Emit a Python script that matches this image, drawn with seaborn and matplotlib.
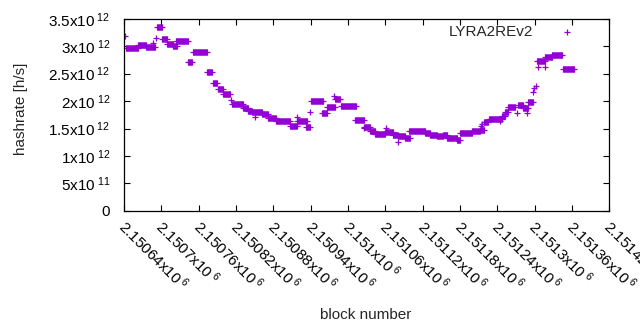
import numpy as np
import pandas as pd
import matplotlib
matplotlib.use("Agg")
import matplotlib.pyplot as plt
from matplotlib.transforms import ScaledTranslation
import seaborn as sns

# runs of blocks with (nearly) constant hashrate, rate in 1e12 h/s
run_start = [2150643, 2150662, 2150675, 2150693, 2150701, 2150709, 2150719, 2150724, 2150742, 2150751,
             2150773, 2150783, 2150791, 2150799, 2150814, 2150831, 2150839, 2150846, 2150862, 2150872,
             2150884, 2150907, 2150918, 2150933, 2150941, 2150958, 2150966, 2150979, 2150989, 2151011,
             2151026, 2151036, 2151044, 2151060, 2151073, 2151081, 2151092, 2151098, 2151124, 2151132,
             2151143, 2151153, 2151159, 2151175, 2151180, 2151200, 2151212, 2151219, 2151226, 2151248,
             2151253, 2151257, 2151274, 2151282, 2151290, 2151303, 2151317, 2151328, 2151346]
run_end = [2150662, 2150675, 2150690, 2150701, 2150709, 2150719, 2150725, 2150743, 2150749, 2150773,
           2150782, 2150790, 2150799, 2150810, 2150831, 2150839, 2150846, 2150862, 2150872, 2150884,
           2150907, 2150918, 2150934, 2150939, 2150960, 2150966, 2150979, 2150987, 2151013, 2151026,
           2151036, 2151044, 2151060, 2151073, 2151081, 2151092, 2151100, 2151124, 2151132, 2151143,
           2151153, 2151159, 2151175, 2151180, 2151200, 2151212, 2151219, 2151225, 2151248, 2151253,
           2151257, 2151269, 2151282, 2151290, 2151298, 2151317, 2151328, 2151344, 2151364]
run_rate = [2.97, 3.02, 2.98, 3.35, 3.14, 3.05, 3.01, 3.09, 2.72, 2.89,
            2.53, 2.33, 2.22, 2.13, 1.95, 1.88, 1.82, 1.80, 1.76, 1.69,
            1.63, 1.55, 1.64, 1.53, 2.00, 1.78, 1.89, 2.04, 1.91, 1.66,
            1.53, 1.46, 1.40, 1.43, 1.39, 1.37, 1.32, 1.46, 1.42, 1.39,
            1.36, 1.38, 1.33, 1.30, 1.42, 1.45, 1.48, 1.62, 1.68, 1.73,
            1.81, 1.89, 1.93, 1.87, 1.99, 2.73, 2.81, 2.84, 2.58]

# single outlying blocks
lone_block = [2150642, 2150687, 2150691, 2150812, 2150851, 2150918, 2150939, 2150978, 2151026, 2151061,
              2151081, 2151214, 2151216, 2151245, 2151272, 2151288, 2151298, 2151299, 2151302, 2151306,
              2151317]
lone_rate = [3.19, 3.06, 3.15, 2.02, 1.71, 1.71, 1.80, 2.10, 1.51, 1.51,
             1.26, 1.55, 1.59, 1.63, 1.79, 1.79, 2.17, 2.24, 2.28, 2.62,
             2.62]

x_ticks = [2150640, 2150700, 2150760, 2150820, 2150880, 2150940, 2151000,
           2151060, 2151120, 2151180, 2151240, 2151300, 2151360, 2151420]
x_mant = ["2.15064", "2.1507", "2.15076", "2.15082", "2.15088", "2.15094", "2.151",
          "2.15106", "2.15112", "2.15118", "2.15124", "2.1513", "2.15136", "2.15142"]
y_ticks = [0, 0.5e12, 1e12, 1.5e12, 2e12, 2.5e12, 3e12, 3.5e12]
y_labels = ["0", r"5x10$^{\ 11}$", r"1x10$^{\ 12}$", r"1.5x10$^{\ 12}$", r"2x10$^{\ 12}$",
            r"2.5x10$^{\ 12}$", r"3x10$^{\ 12}$", r"3.5x10$^{\ 12}$"]

sns.set_style("ticks")
plt.rcParams["font.family"] = ["Liberation Sans", "DejaVu Sans"]
plt.rcParams["mathtext.fontset"] = "custom"
plt.rcParams["mathtext.rm"] = "Liberation Sans"
plt.rcParams["mathtext.it"] = "Liberation Sans:italic"
plt.rcParams["font.size"] = 11

colour = "#9400d3"

pts = pd.DataFrame({
    "block": run_start + run_end + lone_block,
    "rate": np.array(run_rate + run_rate + lone_rate) * 1e12,
})

fig = plt.figure(figsize=(6.4, 3.3), dpi=100)
ax = fig.add_axes([0.194, 0.361, 0.758, 0.582])

# dense runs of '+' markers merge into solid bars
ax.hlines(np.array(run_rate) * 1e12, run_start, run_end, colors=colour,
          linewidth=4.7, capstyle="butt")
sns.scatterplot(data=pts, x="block", y="rate", marker="+", color=colour,
                s=24, linewidth=0.9, label="LYRA2REv2", ax=ax)

ax.set_xlim(2150640, 2151420)
ax.set_ylim(0, 3.5e12)
ax.set_xticks(x_ticks)
ax.set_xticklabels([m + r"x10$^{\ 6}$" for m in x_mant], rotation=-45,
                   ha="left", va="top", rotation_mode="anchor")
ax.set_yticks(y_ticks)
ax.set_yticklabels(y_labels)
ax.tick_params(direction="in", top=True, right=True, length=4, width=0.8,
               labelsize=11, colors="black")
ax.tick_params(axis="x", pad=6)
ax.tick_params(axis="y", pad=10)
shift = ScaledTranslation(0.04, 0.02, fig.dpi_scale_trans)
for lab in ax.get_xticklabels():
    lab.set_transform(lab.get_transform() + shift)
for sp in ax.spines.values():
    sp.set_linewidth(0.9)
    sp.set_color("black")

ax.set_xlabel("block number", fontsize=11)
ax.set_ylabel("hashrate [h/s]", fontsize=11)
ax.xaxis.set_label_coords(0.497, -0.505)
ax.yaxis.set_label_coords(-0.198, 0.53)

ax.legend(markerfirst=False, frameon=False, loc="upper right",
          bbox_to_anchor=(0.957, 1.0), borderaxespad=0, fontsize=11,
          handletextpad=1.2)

fig.savefig("out.png", dpi=100)
